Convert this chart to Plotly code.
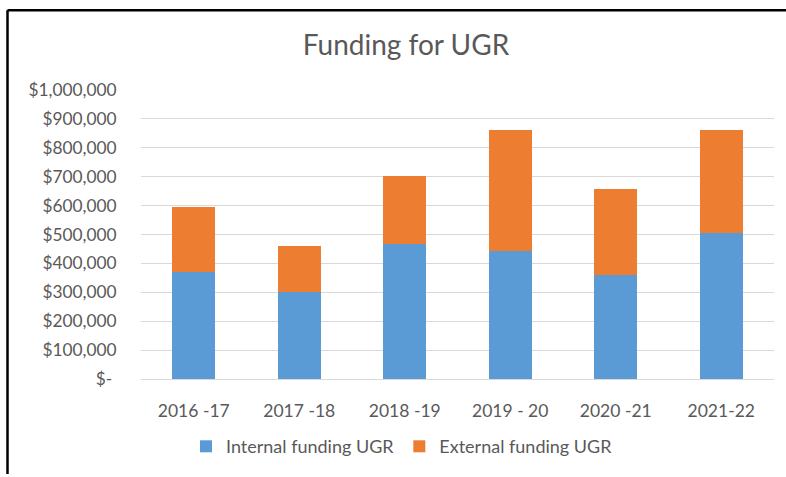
import plotly.graph_objects as go

# ---- data ----
years = ["2016 -17", "2017 -18", "2018 -19", "2019 - 20", "2020 -21", "2021-22"]
internal_funding = [370000, 302000, 467000, 444000, 360000, 506000]
external_funding = [226000, 158000, 235000, 417000, 298000, 355000]
tick_vals = [0, 100000, 200000, 300000, 400000, 500000, 600000, 700000, 800000, 900000, 1000000]
tick_text = ["$-\u00a0", "$100,000", "$200,000", "$300,000", "$400,000", "$500,000",
             "$600,000", "$700,000", "$800,000", "$900,000", "$1,000,000"]

# ---- layout constants (pixels) ----
W, H = 786, 477
L, R, T, B = 141, 12, 90, 92
PW, PH = W - L - R, H - T - B


def px_x(p):
    return (p - L) / PW


def px_y(p):
    return (H - B - p) / PH


FONT = "Lato, Carlito, Calibri, sans-serif"
TXT = "#595959"
GRID = "#D9D9D9"

fig = go.Figure()
fig.add_trace(go.Bar(x=years, y=internal_funding, name="Internal funding UGR",
                     marker=dict(color="#5B9BD5", line=dict(width=0))))
fig.add_trace(go.Bar(x=years, y=external_funding, name="External funding UGR",
                     marker=dict(color="#ED7D31", line=dict(width=0))))

fig.update_layout(
    width=W, height=H,
    margin=dict(l=L, r=R, t=T, b=B, pad=0),
    barmode="stack",
    bargap=0.595,
    paper_bgcolor="white",
    plot_bgcolor="white",
    font=dict(family=FONT, color=TXT, size=17.3),
    title=dict(text="Funding for UGR", x=406 / W, xref="container", xanchor="center",
               y=1 - 45 / H, yref="container", yanchor="middle",
               font=dict(family=FONT, size=28, color=TXT)),
    legend=dict(orientation="h", x=px_x(402), xanchor="center",
                y=px_y(454), yanchor="middle", traceorder="normal",
                font=dict(family=FONT, size=18, color=TXT),
                bgcolor="rgba(0,0,0,0)"),
    xaxis=dict(showgrid=False, showline=True, linecolor=GRID, linewidth=1,
               ticks="outside", ticklen=16, tickcolor="rgba(0,0,0,0)",
               tickfont=dict(family=FONT, size=17.5, color=TXT), fixedrange=True),
    yaxis=dict(range=[0, 1000000], tickvals=tick_vals, ticktext=tick_text,
               showgrid=True, gridcolor=GRID, gridwidth=1, zeroline=False,
               showline=False, ticks="outside", ticklen=20, tickcolor="rgba(0,0,0,0)",
               tickfont=dict(family=FONT, size=17.3, color=TXT), fixedrange=True),
    shapes=[
        dict(type="line", xref="paper", yref="paper",
             x0=px_x(7.5), x1=px_x(7.5), y0=px_y(8.5), y1=px_y(H + 5),
             line=dict(color="black", width=2.5)),
        dict(type="line", xref="paper", yref="paper",
             x0=px_x(7.5), x1=px_x(W + 5), y0=px_y(8.5), y1=px_y(8.5),
             line=dict(color="black", width=2.5)),
    ],
)

post = (
    "var s=document.documentElement.style;s.margin='0';s.padding='0';s.overflow='hidden';"
    "s.height='" + str(H) + "px';"
    "var b=document.body.style;b.margin='0';b.padding='0';b.overflow='hidden';"
    "b.height='" + str(H) + "px';"
)
fig.write_html("out.html", config={"displayModeBar": False}, post_script=post)
